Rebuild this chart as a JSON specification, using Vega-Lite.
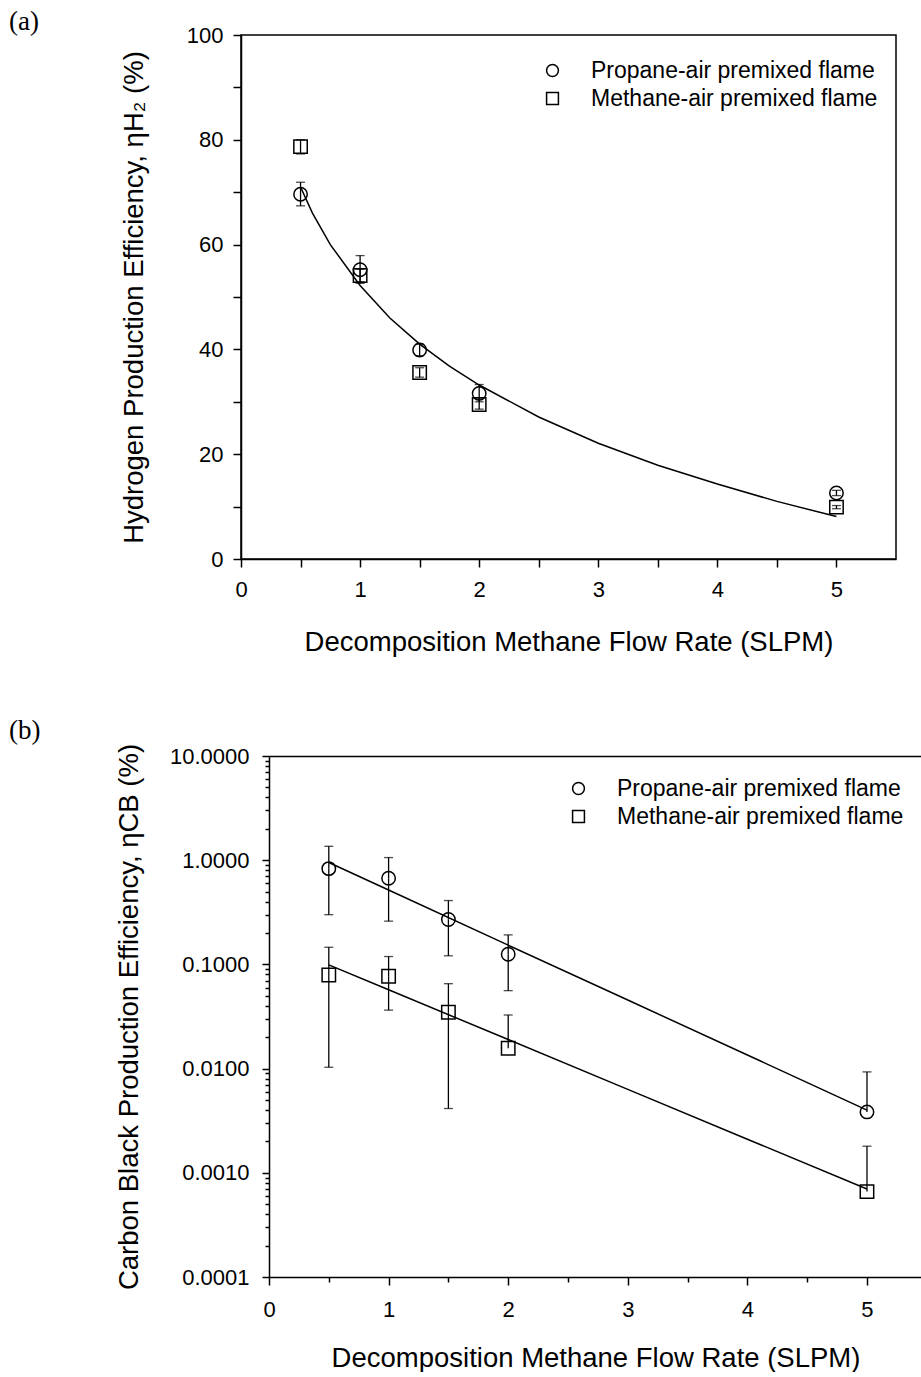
{
  "$schema": "https://vega.github.io/schema/vega-lite/v6.json",
  "padding": {"left": 8, "top": 7, "right": 0, "bottom": 0},
  "spacing": 60,
  "background": "white",
  "config": {
    "font": "Liberation Sans",
    "view": {"stroke": "black", "strokeWidth": 1.5},
    "axis": {
      "domainColor": "black", "domainWidth": 1.5,
      "tickColor": "black", "tickWidth": 1.5,
      "labelColor": "black", "labelFont": "Liberation Sans", "labelFontSize": 22,
      "titleFont": "Liberation Sans", "titleFontSize": 27.5, "titleFontWeight": "normal", "titleColor": "black",
      "grid": false, "labelFlush": false, "labelOverlap": false
    },
    "title": {"font": "Liberation Serif", "fontSize": 27, "fontWeight": "normal", "color": "black", "anchor": "start", "frame": "group", "baseline": "alphabetic"}
  },
  "resolve": {"scale": {"x": "independent", "y": "independent", "shape": "independent"}, "legend": {"shape": "independent"}},
  "datasets": {
    "ptsA": [
      {"x": 0.5, "flame": "Propane-air premixed flame", "y": 69.6, "lo": 67.4, "hi": 71.9},
      {"x": 1.0, "flame": "Propane-air premixed flame", "y": 55.2, "lo": 52.6, "hi": 57.9},
      {"x": 1.5, "flame": "Propane-air premixed flame", "y": 39.9, "lo": 38.8, "hi": 41.0},
      {"x": 2.0, "flame": "Propane-air premixed flame", "y": 31.6, "lo": 30.0, "hi": 33.3},
      {"x": 5.0, "flame": "Propane-air premixed flame", "y": 12.6, "lo": 12.1, "hi": 13.1},
      {"x": 0.5, "flame": "Methane-air premixed flame", "y": 78.7, "lo": 77.3, "hi": 80.0},
      {"x": 1.0, "flame": "Methane-air premixed flame", "y": 54.1, "lo": 52.9, "hi": 55.3},
      {"x": 1.5, "flame": "Methane-air premixed flame", "y": 35.6, "lo": 34.7, "hi": 36.5},
      {"x": 2.0, "flame": "Methane-air premixed flame", "y": 29.5, "lo": 28.6, "hi": 30.7},
      {"x": 5.0, "flame": "Methane-air premixed flame", "y": 9.9, "lo": 9.6, "hi": 10.2}
    ],
    "fitA": [
      {"x": 0.5, "y": 71.0}, {"x": 0.6, "y": 66.0}, {"x": 0.75, "y": 60.0}, {"x": 1.0, "y": 52.2},
      {"x": 1.25, "y": 46.0}, {"x": 1.5, "y": 41.0}, {"x": 1.75, "y": 36.8}, {"x": 2.0, "y": 33.2},
      {"x": 2.5, "y": 27.1}, {"x": 3.0, "y": 22.1}, {"x": 3.5, "y": 17.9}, {"x": 4.0, "y": 14.3},
      {"x": 4.5, "y": 11.0}, {"x": 5.0, "y": 8.1}
    ],
    "ptsB": [
      {"x": 0.5, "flame": "Propane-air premixed flame", "y": 0.83, "lo": 0.30, "hi": 1.36},
      {"x": 1.0, "flame": "Propane-air premixed flame", "y": 0.67, "lo": 0.26, "hi": 1.06},
      {"x": 1.5, "flame": "Propane-air premixed flame", "y": 0.27, "lo": 0.121, "hi": 0.41},
      {"x": 2.0, "flame": "Propane-air premixed flame", "y": 0.125, "lo": 0.056, "hi": 0.192},
      {"x": 5.0, "flame": "Propane-air premixed flame", "y": 0.00384, "lo": null, "hi": 0.0093},
      {"x": 0.5, "flame": "Methane-air premixed flame", "y": 0.079, "lo": 0.0103, "hi": 0.146},
      {"x": 1.0, "flame": "Methane-air premixed flame", "y": 0.077, "lo": 0.0364, "hi": 0.119},
      {"x": 1.5, "flame": "Methane-air premixed flame", "y": 0.0348, "lo": 0.00414, "hi": 0.0653},
      {"x": 2.0, "flame": "Methane-air premixed flame", "y": 0.0157, "lo": null, "hi": 0.0327},
      {"x": 5.0, "flame": "Methane-air premixed flame", "y": 0.00066, "lo": null, "hi": 0.0018}
    ],
    "fitB": [
      {"x": 0.5, "y": 0.951, "flame": "Propane-air premixed flame"},
      {"x": 1.0, "y": 0.518, "flame": "Propane-air premixed flame"},
      {"x": 2.0, "y": 0.153, "flame": "Propane-air premixed flame"},
      {"x": 3.0, "y": 0.0455, "flame": "Propane-air premixed flame"},
      {"x": 4.0, "y": 0.0135, "flame": "Propane-air premixed flame"},
      {"x": 5.0, "y": 0.0040, "flame": "Propane-air premixed flame"},
      {"x": 0.5, "y": 0.099, "flame": "Methane-air premixed flame"},
      {"x": 1.0, "y": 0.0571, "flame": "Methane-air premixed flame"},
      {"x": 2.0, "y": 0.019, "flame": "Methane-air premixed flame"},
      {"x": 3.0, "y": 0.00632, "flame": "Methane-air premixed flame"},
      {"x": 4.0, "y": 0.0021, "flame": "Methane-air premixed flame"},
      {"x": 5.0, "y": 0.0007, "flame": "Methane-air premixed flame"}
    ]
  },
  "vconcat": [
    {
      "width": 655,
      "height": 524,
      "title": {"text": "(a)", "dx": -232, "offset": -12},
      "encoding": {
        "x": {"field": "x", "type": "quantitative", "scale": {"domain": [0, 5.5], "nice": false},
          "axis": {"title": "Decomposition Methane Flow Rate (SLPM)", "values": [0, 0.5, 1, 1.5, 2, 2.5, 3, 3.5, 4, 4.5, 5],
            "labelExpr": "datum.value % 1 === 0 ? format(datum.value, 'd') : ''", "tickSize": 8, "labelPadding": 12, "titlePadding": 28}}
      },
      "layer": [
        {
          "data": {"name": "fitA"},
          "mark": {"type": "line", "color": "black", "strokeWidth": 1.5},
          "encoding": {
            "y": {"field": "y", "type": "quantitative", "scale": {"domain": [0, 100], "nice": false},
              "axis": {"title": "Hydrogen Production Efficiency, ηH₂ (%)", "values": [0, 10, 20, 30, 40, 50, 60, 70, 80, 90, 100],
                "labelExpr": "datum.value % 20 === 0 ? datum.label : ''", "tickSize": 8, "labelPadding": 10, "titlePadding": 38}}
          }
        },
        {
          "data": {"name": "ptsA"},
          "mark": {"type": "rule", "color": "black", "strokeWidth": 1.3},
          "encoding": {
            "y": {"field": "lo", "type": "quantitative",
              "axis": {"title": "Hydrogen Production Efficiency, ηH₂ (%)", "values": [0, 10, 20, 30, 40, 50, 60, 70, 80, 90, 100],
                "labelExpr": "datum.value % 20 === 0 ? datum.label : ''", "tickSize": 8, "labelPadding": 10, "titlePadding": 38}},
            "y2": {"field": "hi"}
          }
        },
        {
          "data": {"name": "ptsA"},
          "mark": {"type": "tick", "orient": "horizontal", "color": "black", "size": 9, "thickness": 1.3},
          "encoding": {
            "y": {"field": "hi", "type": "quantitative",
              "axis": {"title": "Hydrogen Production Efficiency, ηH₂ (%)", "values": [0, 10, 20, 30, 40, 50, 60, 70, 80, 90, 100],
                "labelExpr": "datum.value % 20 === 0 ? datum.label : ''", "tickSize": 8, "labelPadding": 10, "titlePadding": 38}}
          }
        },
        {
          "data": {"name": "ptsA"},
          "mark": {"type": "tick", "orient": "horizontal", "color": "black", "size": 9, "thickness": 1.3},
          "encoding": {
            "y": {"field": "lo", "type": "quantitative",
              "axis": {"title": "Hydrogen Production Efficiency, ηH₂ (%)", "values": [0, 10, 20, 30, 40, 50, 60, 70, 80, 90, 100],
                "labelExpr": "datum.value % 20 === 0 ? datum.label : ''", "tickSize": 8, "labelPadding": 10, "titlePadding": 38}}
          }
        },
        {
          "data": {"name": "ptsA"},
          "mark": {"type": "point", "filled": false, "color": "black", "strokeWidth": 1.5, "size": 180, "opacity": 1},
          "encoding": {
            "y": {"field": "y", "type": "quantitative",
              "axis": {"title": "Hydrogen Production Efficiency, ηH₂ (%)", "values": [0, 10, 20, 30, 40, 50, 60, 70, 80, 90, 100],
                "labelExpr": "datum.value % 20 === 0 ? datum.label : ''", "tickSize": 8, "labelPadding": 10, "titlePadding": 38}},
            "shape": {"field": "flame", "type": "nominal",
              "scale": {"domain": ["Propane-air premixed flame", "Methane-air premixed flame"], "range": ["circle", "square"]},
              "legend": {"orient": "none", "legendX": 300, "legendY": 24, "title": null, "padding": 0,
                "labelFont": "Liberation Sans", "labelFontSize": 23, "labelColor": "black", "labelLimit": 0, "labelOffset": 27,
                "symbolSize": 140, "symbolStrokeWidth": 1.5, "symbolStrokeColor": "black", "symbolFillColor": "transparent", "rowPadding": 4}}
          }
        }
      ]
    },
    {
      "width": 681,
      "height": 521,
      "view": {"stroke": null},
      "title": {"text": "(b)", "dx": -232, "offset": -2},
      "encoding": {
        "x": {"field": "x", "type": "quantitative", "scale": {"domain": [0, 5.46], "range": [28, 681], "nice": false},
          "axis": {"title": "Decomposition Methane Flow Rate (SLPM)", "values": [0, 0.5, 1, 1.5, 2, 2.5, 3, 3.5, 4, 4.5, 5],
            "labelExpr": "datum.value % 1 === 0 ? format(datum.value, 'd') : ''",
            "tickSize": {"condition": {"test": "datum.value % 1 === 0", "value": 8}, "value": 5},
            "labelPadding": 14, "titlePadding": 24}}
      },
      "layer": [
        {
          "data": {"name": "fitB"},
          "mark": {"type": "line", "color": "black", "strokeWidth": 1.5},
          "encoding": {
            "detail": {"field": "flame", "type": "nominal"},
            "y": {"field": "y", "type": "quantitative", "scale": {"type": "log", "domain": [0.0001, 10], "nice": false},
              "axis": {"title": "Carbon Black Production Efficiency, ηCB (%)", "offset": -28,
                "grid": true, "gridColor": "black", "gridWidth": 1.5,
                "gridOpacity": {"condition": {"test": "datum.value === 10", "value": 1}, "value": 0},
                "values": [0.0001, 0.0002, 0.0003, 0.0004, 0.0005, 0.0006, 0.0007, 0.0008, 0.0009, 0.001, 0.002, 0.003, 0.004, 0.005, 0.006, 0.007, 0.008, 0.009, 0.01, 0.02, 0.03, 0.04, 0.05, 0.06, 0.07, 0.08, 0.09, 0.1, 0.2, 0.3, 0.4, 0.5, 0.6, 0.7, 0.8, 0.9, 1, 2, 3, 4, 5, 6, 7, 8, 9, 10],
                "labelExpr": "indexof([0.0001, 0.001, 0.01, 0.1, 1, 10], datum.value) >= 0 ? format(datum.value, '.4f') : ''",
                "tickSize": {"condition": {"test": "indexof([0.0001, 0.001, 0.01, 0.1, 1, 10], datum.value) >= 0", "value": 7}, "value": 4},
                "labelPadding": 13, "titlePadding": 26}}
          }
        },
        {
          "data": {"values": [{}]},
          "mark": {"type": "rule", "color": "black", "strokeWidth": 1.5},
          "encoding": {
            "x": {"datum": 0, "type": "quantitative"},
            "x2": {"datum": 5.46},
            "y": {"datum": 10, "type": "quantitative",
              "axis": {"title": "Carbon Black Production Efficiency, ηCB (%)", "offset": -28,
                "grid": true, "gridColor": "black", "gridWidth": 1.5,
                "gridOpacity": {"condition": {"test": "datum.value === 10", "value": 1}, "value": 0},
                "values": [0.0001, 0.0002, 0.0003, 0.0004, 0.0005, 0.0006, 0.0007, 0.0008, 0.0009, 0.001, 0.002, 0.003, 0.004, 0.005, 0.006, 0.007, 0.008, 0.009, 0.01, 0.02, 0.03, 0.04, 0.05, 0.06, 0.07, 0.08, 0.09, 0.1, 0.2, 0.3, 0.4, 0.5, 0.6, 0.7, 0.8, 0.9, 1, 2, 3, 4, 5, 6, 7, 8, 9, 10],
                "labelExpr": "indexof([0.0001, 0.001, 0.01, 0.1, 1, 10], datum.value) >= 0 ? format(datum.value, '.4f') : ''",
                "tickSize": {"condition": {"test": "indexof([0.0001, 0.001, 0.01, 0.1, 1, 10], datum.value) >= 0", "value": 7}, "value": 4},
                "labelPadding": 13, "titlePadding": 26}}
          }
        },
        {
          "data": {"name": "ptsB"},
          "mark": {"type": "rule", "color": "black", "strokeWidth": 1.3},
          "encoding": {
            "y": {"field": "y", "type": "quantitative",
              "axis": {"title": "Carbon Black Production Efficiency, ηCB (%)", "offset": -28,
                "grid": true, "gridColor": "black", "gridWidth": 1.5,
                "gridOpacity": {"condition": {"test": "datum.value === 10", "value": 1}, "value": 0},
                "values": [0.0001, 0.0002, 0.0003, 0.0004, 0.0005, 0.0006, 0.0007, 0.0008, 0.0009, 0.001, 0.002, 0.003, 0.004, 0.005, 0.006, 0.007, 0.008, 0.009, 0.01, 0.02, 0.03, 0.04, 0.05, 0.06, 0.07, 0.08, 0.09, 0.1, 0.2, 0.3, 0.4, 0.5, 0.6, 0.7, 0.8, 0.9, 1, 2, 3, 4, 5, 6, 7, 8, 9, 10],
                "labelExpr": "indexof([0.0001, 0.001, 0.01, 0.1, 1, 10], datum.value) >= 0 ? format(datum.value, '.4f') : ''",
                "tickSize": {"condition": {"test": "indexof([0.0001, 0.001, 0.01, 0.1, 1, 10], datum.value) >= 0", "value": 7}, "value": 4},
                "labelPadding": 13, "titlePadding": 26}},
            "y2": {"field": "hi"}
          }
        },
        {
          "data": {"name": "ptsB"},
          "mark": {"type": "rule", "color": "black", "strokeWidth": 1.3},
          "encoding": {
            "y": {"field": "lo", "type": "quantitative",
              "axis": {"title": "Carbon Black Production Efficiency, ηCB (%)", "offset": -28,
                "grid": true, "gridColor": "black", "gridWidth": 1.5,
                "gridOpacity": {"condition": {"test": "datum.value === 10", "value": 1}, "value": 0},
                "values": [0.0001, 0.0002, 0.0003, 0.0004, 0.0005, 0.0006, 0.0007, 0.0008, 0.0009, 0.001, 0.002, 0.003, 0.004, 0.005, 0.006, 0.007, 0.008, 0.009, 0.01, 0.02, 0.03, 0.04, 0.05, 0.06, 0.07, 0.08, 0.09, 0.1, 0.2, 0.3, 0.4, 0.5, 0.6, 0.7, 0.8, 0.9, 1, 2, 3, 4, 5, 6, 7, 8, 9, 10],
                "labelExpr": "indexof([0.0001, 0.001, 0.01, 0.1, 1, 10], datum.value) >= 0 ? format(datum.value, '.4f') : ''",
                "tickSize": {"condition": {"test": "indexof([0.0001, 0.001, 0.01, 0.1, 1, 10], datum.value) >= 0", "value": 7}, "value": 4},
                "labelPadding": 13, "titlePadding": 26}},
            "y2": {"field": "y"}
          }
        },
        {
          "data": {"name": "ptsB"},
          "mark": {"type": "tick", "orient": "horizontal", "color": "black", "size": 9, "thickness": 1.3},
          "encoding": {
            "y": {"field": "hi", "type": "quantitative",
              "axis": {"title": "Carbon Black Production Efficiency, ηCB (%)", "offset": -28,
                "grid": true, "gridColor": "black", "gridWidth": 1.5,
                "gridOpacity": {"condition": {"test": "datum.value === 10", "value": 1}, "value": 0},
                "values": [0.0001, 0.0002, 0.0003, 0.0004, 0.0005, 0.0006, 0.0007, 0.0008, 0.0009, 0.001, 0.002, 0.003, 0.004, 0.005, 0.006, 0.007, 0.008, 0.009, 0.01, 0.02, 0.03, 0.04, 0.05, 0.06, 0.07, 0.08, 0.09, 0.1, 0.2, 0.3, 0.4, 0.5, 0.6, 0.7, 0.8, 0.9, 1, 2, 3, 4, 5, 6, 7, 8, 9, 10],
                "labelExpr": "indexof([0.0001, 0.001, 0.01, 0.1, 1, 10], datum.value) >= 0 ? format(datum.value, '.4f') : ''",
                "tickSize": {"condition": {"test": "indexof([0.0001, 0.001, 0.01, 0.1, 1, 10], datum.value) >= 0", "value": 7}, "value": 4},
                "labelPadding": 13, "titlePadding": 26}}
          }
        },
        {
          "data": {"name": "ptsB"},
          "mark": {"type": "tick", "orient": "horizontal", "color": "black", "size": 9, "thickness": 1.3},
          "encoding": {
            "y": {"field": "lo", "type": "quantitative",
              "axis": {"title": "Carbon Black Production Efficiency, ηCB (%)", "offset": -28,
                "grid": true, "gridColor": "black", "gridWidth": 1.5,
                "gridOpacity": {"condition": {"test": "datum.value === 10", "value": 1}, "value": 0},
                "values": [0.0001, 0.0002, 0.0003, 0.0004, 0.0005, 0.0006, 0.0007, 0.0008, 0.0009, 0.001, 0.002, 0.003, 0.004, 0.005, 0.006, 0.007, 0.008, 0.009, 0.01, 0.02, 0.03, 0.04, 0.05, 0.06, 0.07, 0.08, 0.09, 0.1, 0.2, 0.3, 0.4, 0.5, 0.6, 0.7, 0.8, 0.9, 1, 2, 3, 4, 5, 6, 7, 8, 9, 10],
                "labelExpr": "indexof([0.0001, 0.001, 0.01, 0.1, 1, 10], datum.value) >= 0 ? format(datum.value, '.4f') : ''",
                "tickSize": {"condition": {"test": "indexof([0.0001, 0.001, 0.01, 0.1, 1, 10], datum.value) >= 0", "value": 7}, "value": 4},
                "labelPadding": 13, "titlePadding": 26}}
          }
        },
        {
          "data": {"name": "ptsB"},
          "mark": {"type": "point", "filled": false, "color": "black", "strokeWidth": 1.5, "size": 180, "opacity": 1},
          "encoding": {
            "y": {"field": "y", "type": "quantitative",
              "axis": {"title": "Carbon Black Production Efficiency, ηCB (%)", "offset": -28,
                "grid": true, "gridColor": "black", "gridWidth": 1.5,
                "gridOpacity": {"condition": {"test": "datum.value === 10", "value": 1}, "value": 0},
                "values": [0.0001, 0.0002, 0.0003, 0.0004, 0.0005, 0.0006, 0.0007, 0.0008, 0.0009, 0.001, 0.002, 0.003, 0.004, 0.005, 0.006, 0.007, 0.008, 0.009, 0.01, 0.02, 0.03, 0.04, 0.05, 0.06, 0.07, 0.08, 0.09, 0.1, 0.2, 0.3, 0.4, 0.5, 0.6, 0.7, 0.8, 0.9, 1, 2, 3, 4, 5, 6, 7, 8, 9, 10],
                "labelExpr": "indexof([0.0001, 0.001, 0.01, 0.1, 1, 10], datum.value) >= 0 ? format(datum.value, '.4f') : ''",
                "tickSize": {"condition": {"test": "indexof([0.0001, 0.001, 0.01, 0.1, 1, 10], datum.value) >= 0", "value": 7}, "value": 4},
                "labelPadding": 13, "titlePadding": 26}},
            "shape": {"field": "flame", "type": "nominal",
              "scale": {"domain": ["Propane-air premixed flame", "Methane-air premixed flame"], "range": ["circle", "square"]},
              "legend": {"orient": "none", "legendX": 326, "legendY": 21, "title": null, "padding": 0,
                "labelFont": "Liberation Sans", "labelFontSize": 23, "labelColor": "black", "labelLimit": 0, "labelOffset": 27,
                "symbolSize": 140, "symbolStrokeWidth": 1.5, "symbolStrokeColor": "black", "symbolFillColor": "transparent", "rowPadding": 4}}
          }
        }
      ]
    }
  ]
}
